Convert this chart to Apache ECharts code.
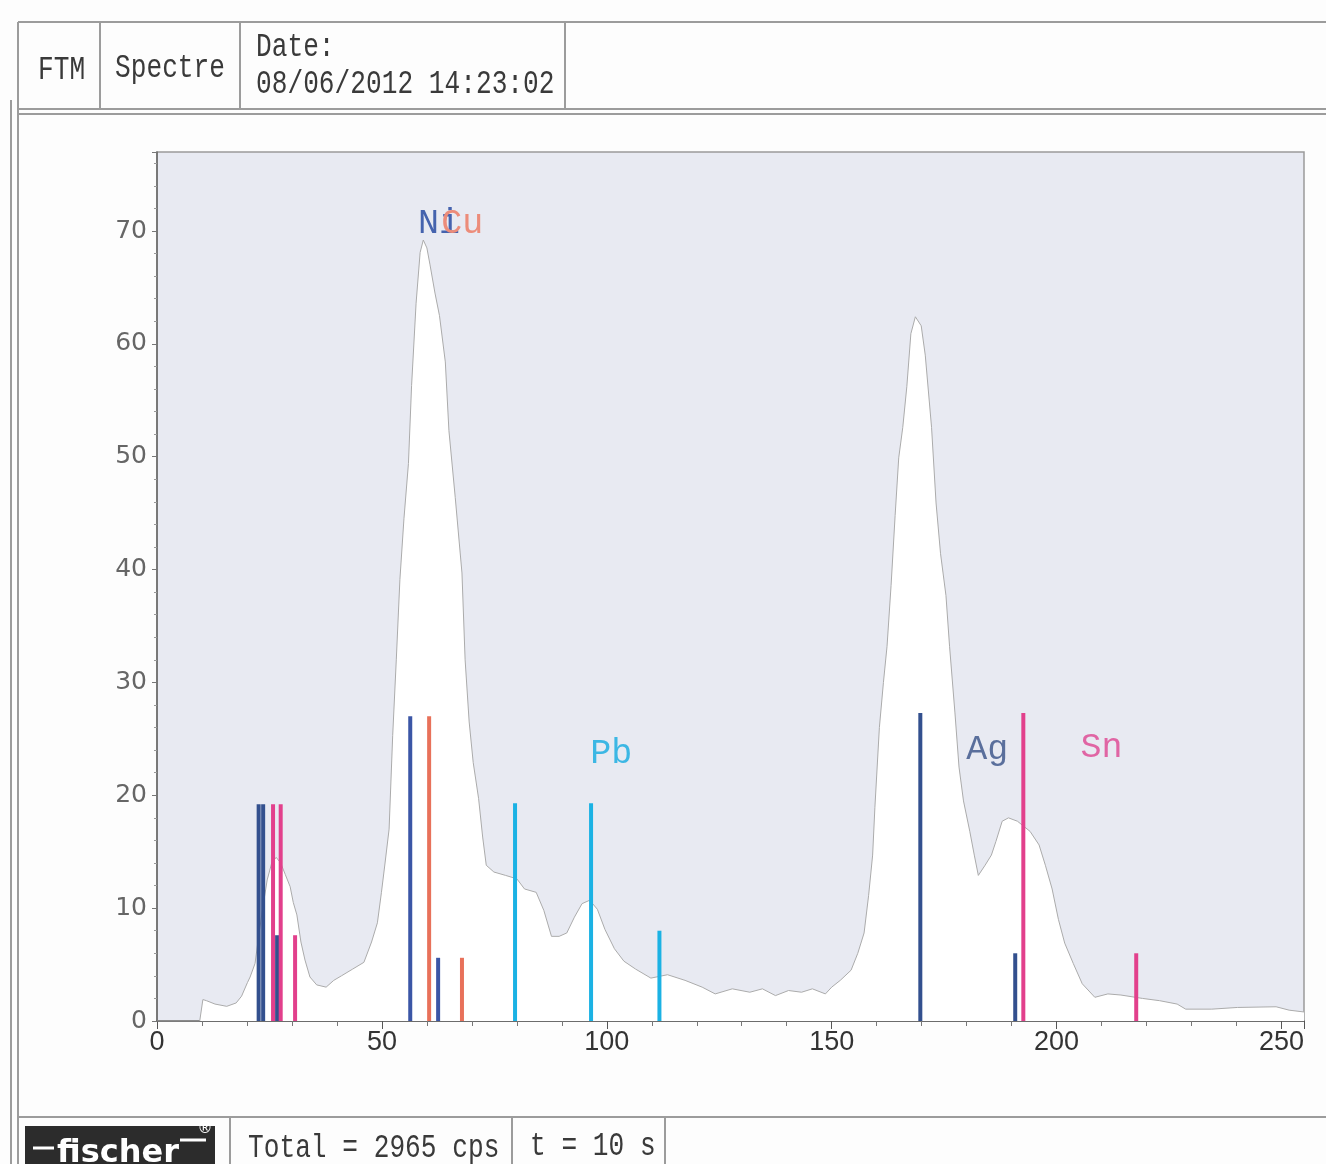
<!DOCTYPE html>
<html>
<head>
<meta charset="utf-8">
<script src="https://cdn.jsdelivr.net/npm/echarts@6/dist/echarts.min.js"></script>
<style>
  html, body { margin: 0; padding: 0; background: #fdfdfd; }
  #main { width: 1326px; height: 1164px; }
</style>
</head>
<body>
<div id="main"></div>
<script>
// spectrum (channel, counts)
var spectrumX = [0, 9.5, 10.2, 11, 12.9, 15.5, 17.6, 18.8, 20.1, 20.7, 21.8, 22.6, 23.5, 24.5, 25.5, 26.5, 27.5, 28.5, 29.6, 30.3,
  31.1, 32, 32.9, 34, 35.5, 37.6, 39.3, 41, 43.5, 46, 47.7, 49, 49.9, 50.7, 51.6, 52.4, 53.2, 54, 54.9, 55.9,
  56.6, 57.6, 58.5, 59.2, 60, 60.7, 61.8, 62.8, 64.1, 64.9, 66.3, 67.8, 68.5, 69.4, 70.3, 71.5, 72.4, 73.2, 74.9, 77.5,
  80, 81.7, 84.3, 86, 87.7, 89.4, 91.1, 92.8, 94.5, 96.2, 97.9, 99.6, 101.7, 103.8, 106.4, 109.8, 113.5, 117.4, 121.2, 124.1,
  127.9, 131.8, 134.6, 137.5, 140.4, 143.3, 145.7, 148.6, 150, 151.9, 154.3, 155.8, 157.2, 158.2, 159.1, 159.6, 160.6, 161.5, 162.3, 163.2,
  164.1, 164.9, 165.8, 166.7, 167.6, 168.6, 169.9, 170.8, 172.2, 173.2, 174.2, 175.4, 176.2, 177.4, 178.3, 179.3, 180.7, 181.7, 182.6, 184.1,
  185.5, 186.5, 187.9, 189.3, 191.3, 194.1, 196.1, 197.5, 199, 200.4, 201.8, 203.7, 205.7, 208.5, 211.4, 214.3, 219.1, 222.9, 226.8, 228.7,
  234.5, 240.2, 248.8, 251.7, 255];
var spectrumY = [0, 0, 1.9, 1.8, 1.5, 1.3, 1.6, 2.2, 3.4, 3.9, 5.1, 7.5, 10, 12.5, 14, 14.5, 14, 13, 11.9, 10.5,
  9.4, 7, 5.4, 3.9, 3.2, 3.0, 3.6, 4.0, 4.6, 5.2, 7.0, 8.7, 11.4, 14, 17, 25.3, 32, 39.1, 44.5, 49.4,
  56.3, 63.6, 68.1, 69.2, 68.5, 67, 64.5, 62.5, 58.4, 52.3, 46.4, 39.7, 32, 26.5, 22.9, 19.7, 16.3, 13.8, 13.2, 12.9,
  12.6, 11.7, 11.4, 9.8, 7.5, 7.5, 7.8, 9.2, 10.4, 10.7, 9.9, 8.1, 6.4, 5.3, 4.6, 3.8, 4.1, 3.6, 3.0, 2.4,
  2.85, 2.55, 2.85, 2.25, 2.7, 2.55, 2.85, 2.4, 3.0, 3.6, 4.5, 6, 7.8, 11.1, 14.7, 18.9, 26, 30, 33.2, 38.6,
  44.8, 49.9, 52.6, 56.2, 60.9, 62.4, 61.6, 59, 52.6, 45.9, 41.4, 37.7, 33.2, 27.3, 22.5, 19.5, 16.8, 14.7, 12.9, 13.8,
  14.7, 15.9, 17.7, 18.0, 17.7, 16.8, 15.6, 13.8, 11.7, 9, 6.9, 5.1, 3.3, 2.1, 2.4, 2.3, 2.0, 1.8, 1.5, 1.05,
  1.05, 1.2, 1.26, 0.96, 0.8];

// element marker lines [channel, height]
var agLines = [[22.6, 19.2], [23.6, 19.2], [26.7, 7.6], [169.7, 27.3], [190.8, 6.0]];
var snLines = [[25.8, 19.2], [27.5, 19.2], [30.7, 7.6], [192.6, 27.3], [217.7, 6.0]];
var niLines = [[56.3, 27.0], [62.5, 5.6]];
var cuLines = [[60.5, 27.0], [67.8, 5.6]];
var pbLines = [[79.6, 19.3], [96.5, 19.3], [111.7, 8.0]];

var labelNames = ["Ni", "Cu", "Pb", "Ag", "Sn"];
var labelX = [58.0, 63.2, 96.3, 179.9, 205.3];
var labelY = [70.6, 70.6, 23.7, 24.0, 24.2];
var labelColors = ["#4563ae", "#ec8c7a", "#3cb7e4", "#5a6f9c", "#e065a4"];

var xTicks = [0, 50, 100, 150, 200, 250];
var yTicks = [0, 10, 20, 30, 40, 50, 60, 70];

var spectrum = spectrumX.map(function (x, i) { return [x, spectrumY[i]]; });

function markerSeries(name, data, color) {
  return {
    type: "custom",
    name: name,
    data: data,
    z: 5,
    renderItem: function (params, api) {
      var p0 = api.coord([api.value(0), 0]);
      var p1 = api.coord([api.value(0), api.value(1)]);
      return {
        type: "line",
        shape: { x1: p0[0], y1: p0[1], x2: p1[0], y2: p1[1] },
        style: { stroke: color, lineWidth: 4 }
      };
    }
  };
}

var mono = '"Liberation Mono", "DejaVu Sans Mono", monospace';
var frame = "#9c9c9c";

function hline(x1, x2, y) {
  return { type: "line", silent: true, shape: { x1: x1, y1: y, x2: x2, y2: y }, style: { stroke: frame, lineWidth: 2 } };
}
function vline(x, y1, y2) {
  return { type: "line", silent: true, shape: { x1: x, y1: y1, x2: x, y2: y2 }, style: { stroke: frame, lineWidth: 2 } };
}
function cellText(txt, x, y) {
  return {
    type: "text", x: x, y: y, scaleX: 0.77,
    style: { text: txt, font: "34px " + mono, fill: "#3a3a3a", align: "left", verticalAlign: "middle",
      textAlign: "left", textVerticalAlign: "middle" }
  };
}

var myChart = echarts.init(document.getElementById("main"));

var option = {
  animation: false,
  backgroundColor: "#fdfdfd",
  grid: {
    left: 157, right: 22, top: 152, bottom: 143,
    show: true, backgroundColor: "#e8eaf2", borderColor: "#9a9a9a", borderWidth: 1.5
  },
  xAxis: {
    type: "value", min: 0, max: 255, interval: 50,
    axisLine: { show: true, onZero: false, lineStyle: { color: "#555", width: 1.5 } },
    axisTick: { show: true, length: 8, lineStyle: { color: "#555" } },
    minorTick: { show: true, splitNumber: 5, length: 5, lineStyle: { color: "#777" } },
    splitLine: { show: false },
    axisLabel: {
      fontSize: 27, color: "#333", fontFamily: "Liberation Sans", margin: 8,
      formatter: function (v) { return xTicks.indexOf(v) >= 0 ? String(v) : ""; }
    }
  },
  yAxis: {
    type: "value", min: 0, max: 77, interval: 10,
    axisLine: { show: true, lineStyle: { color: "#666", width: 1.5 } },
    axisTick: { show: true, length: 5, lineStyle: { color: "#777" } },
    minorTick: { show: true, splitNumber: 5, length: 3, lineStyle: { color: "#999" } },
    splitLine: { show: false },
    axisLabel: {
      fontSize: 25, color: "#666", fontFamily: "DejaVu Sans", margin: 10,
      formatter: function (v) { return yTicks.indexOf(v) >= 0 ? String(v) : ""; }
    }
  },
  graphic: [
    // header row
    hline(18, 1326, 22),
    hline(18, 1326, 109),
    hline(18, 1326, 114),
    vline(18, 22, 1164),
    vline(11, 100, 1164),
    vline(100, 22, 109),
    vline(240, 22, 109),
    vline(565, 22, 109),
    cellText("FTM", 38, 70),
    cellText("Spectre", 115, 68),
    cellText("Date:", 256, 47),
    cellText("08/06/2012 14:23:02", 256, 84),
    // footer row
    hline(18, 1326, 1117),
    vline(230, 1117, 1164),
    vline(512, 1117, 1164),
    vline(665, 1117, 1164),
    cellText("Total = 2965 cps", 248, 1148),
    cellText("t = 10 s", 530, 1146),
    { type: "rect", shape: { x: 25, y: 1126, width: 190, height: 40 }, style: { fill: "#2c2c2c" } },
    { type: "line", shape: { x1: 33, y1: 1148, x2: 54, y2: 1148 }, style: { stroke: "#fff", lineWidth: 3 } },
    { type: "line", shape: { x1: 180, y1: 1140, x2: 206, y2: 1140 }, style: { stroke: "#fff", lineWidth: 3 } },
    {
      type: "text", x: 118, y: 1154,
      style: { text: "fischer", font: "bold 32px \"DejaVu Sans\"", fill: "#fff", align: "center", verticalAlign: "middle",
        textAlign: "center", textVerticalAlign: "middle" }
    },
    {
      type: "text", x: 205, y: 1129,
      style: { text: "\u00ae", font: "15px \"DejaVu Sans\"", fill: "#fff", align: "center", verticalAlign: "middle",
        textAlign: "center", textVerticalAlign: "middle" }
    }
  ],
  series: [
    {
      type: "line",
      data: spectrum,
      symbol: "none",
      z: 2,
      lineStyle: { color: "#ababab", width: 1 },
      areaStyle: { color: "#ffffff", opacity: 1 }
    },
    markerSeries("Ag", agLines, "#33508e"),
    markerSeries("Sn", snLines, "#e2408c"),
    markerSeries("Ni", niLines, "#3b56a6"),
    markerSeries("Cu", cuLines, "#e8715a"),
    markerSeries("Pb", pbLines, "#1bb2e4"),
    {
      type: "custom",
      z: 6,
      data: labelX.map(function (x, i) { return [x, labelY[i]]; }),
      renderItem: function (params, api) {
        var p = api.coord([api.value(0), api.value(1)]);
        var i = params.dataIndex;
        return {
          type: "text",
          x: p[0], y: p[1],
          style: {
            text: labelNames[i], fill: labelColors[i], font: "35px " + mono,
            align: "left", verticalAlign: "middle", textAlign: "left", textVerticalAlign: "middle"
          }
        };
      }
    }
  ]
};

myChart.setOption(option);
</script>
</body>
</html>
